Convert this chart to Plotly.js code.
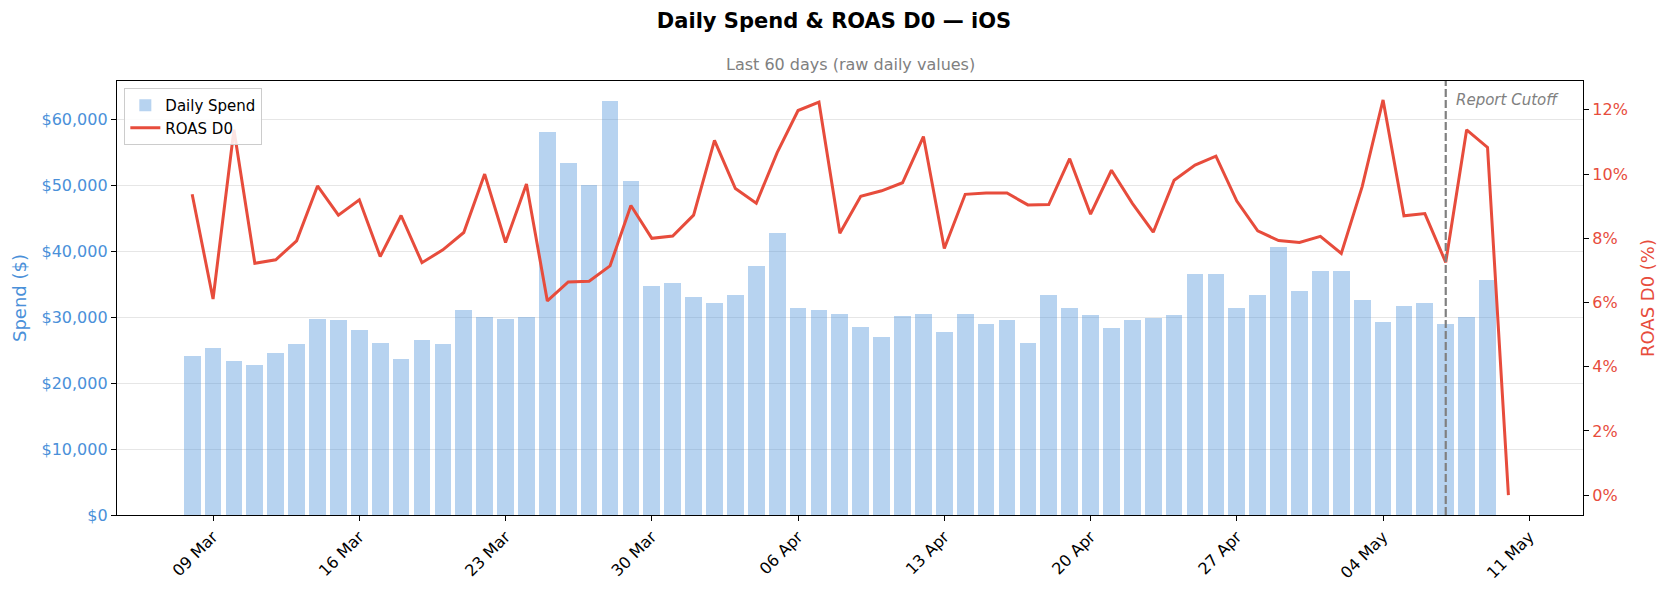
<!DOCTYPE html>
<html>
<head>
<meta charset="utf-8">
<script src="https://cdn.plot.ly/plotly-3.0.1.min.js"></script>
<style>
  html, body { margin: 0; padding: 0; background: #fff; }
  #chart { width: 1668px; height: 594px; }
</style>
</head>
<body>
<div id="chart"></div>
<script>
// Daily spend (bars) and ROAS D0 (line), iOS, last 60 days

const firstDay = '2025-03-08';
const cutoffDay = '2025-05-07';

// daily spend in $, 08 Mar .. 09 May
const spend = [
  24100, 25350, 23400, 22750, 24600, 25950, 29750, 29600, 28050, 26100,
  23700, 26550, 25950, 31100, 30050, 29750, 30000, 58050, 53350, 50050,
  62750, 50650, 34750, 35200, 33050, 32150, 33350, 37750, 42750, 31400,
  31100, 30500, 28550, 27000, 30200, 30500, 27750, 30500, 29000, 29600,
  26100, 33350, 31400, 30350, 28400, 29600, 29900, 30350, 36550, 36550,
  31400, 33350, 40650, 34000, 37000, 37000, 32600, 29300, 31700, 32150,
  29000, 30050, 35650
];

// ROAS D0 in %, 08 Mar .. 10 May
const roas = [
  9.37, 6.11, 11.38, 7.22, 7.33, 7.92, 9.63, 8.72, 9.20, 7.43,
  8.71, 7.24, 7.64, 8.18, 10.00, 7.87, 9.69, 6.05, 6.64, 6.66,
  7.14, 9.02, 8.00, 8.07, 8.72, 11.05, 9.55, 9.09, 10.67, 11.98,
  12.24, 8.16, 9.31, 9.48, 9.73, 11.17, 7.68, 9.37, 9.41, 9.41,
  9.04, 9.05, 10.48, 8.75, 10.12, 9.09, 8.19, 9.81, 10.28, 10.56,
  9.16, 8.23, 7.93, 7.87, 8.06, 7.53, 9.61, 12.31, 8.70, 8.77,
  7.25, 11.38, 10.83, 0
];

const DAY = 86400000;

// consecutive calendar days starting at firstDay
function dayList(start, n) {
  const t0 = Date.parse(start + 'T00:00:00Z');
  const out = [];
  for (let i = 0; i < n; i++) {
    out.push(new Date(t0 + i * DAY).toISOString().slice(0, 10));
  }
  return out;
}

const spendDates = dayList(firstDay, spend.length);
const roasDates = dayList(firstDay, roas.length);

const blue = '#4a90d9';
const red = '#e74c3c';
const font = 'DejaVu Sans, Verdana, sans-serif';

const traces = [
  {
    type: 'bar',
    x: spendDates,
    y: spend,
    width: 0.8 * DAY,
    name: 'Daily Spend',
    marker: { color: 'rgba(74,144,217,0.4)', line: { width: 0 } },
    yaxis: 'y'
  },
  {
    type: 'scatter',
    mode: 'lines',
    x: roasDates,
    y: roas,
    name: 'ROAS D0',
    line: { color: red, width: 3 },
    yaxis: 'y2'
  }
];

const layout = {
  width: 1668,
  height: 594,
  margin: { l: 117, r: 85, t: 81, b: 79 },
  paper_bgcolor: '#fff',
  plot_bgcolor: '#fff',
  font: { family: font, size: 16, color: '#000' },
  showlegend: true,
  bargap: 0,
  title: {
    text: '<b>Daily Spend & ROAS D0 — iOS</b>',
    font: { family: font, size: 21, color: '#000' },
    xref: 'container', x: 0.5, xanchor: 'center',
    yref: 'container', y: 1 - 21 / 594, yanchor: 'middle'
  },
  legend: {
    x: 0.005, y: 0.984, xanchor: 'left', yanchor: 'top',
    bgcolor: 'rgba(255,255,255,0.85)',
    bordercolor: '#cccccc', borderwidth: 1,
    font: { family: font, size: 15, color: '#000' },
    traceorder: 'normal'
  },
  xaxis: {
    type: 'date',
    range: ['2025-03-04 09:40', '2025-05-13 13:40'],
    tick0: '2025-03-09',
    dtick: 7 * DAY,
    tickformat: '%d %b',
    tickangle: -45,
    ticks: 'outside', ticklen: 5, tickwidth: 1.2, tickcolor: '#000',
    showline: true, linecolor: '#000', linewidth: 1.3, mirror: true,
    showgrid: false, zeroline: false,
    tickfont: { family: font, size: 16, color: '#000' }
  },
  yaxis: {
    range: [0, 65850],
    dtick: 10000,
    tickprefix: '$',
    tickformat: ',d',
    ticks: 'outside', ticklen: 5, tickwidth: 1.2, tickcolor: '#000',
    showline: true, linecolor: '#000', linewidth: 1.3,
    showgrid: true, gridcolor: '#e6e6e6', gridwidth: 1,
    zeroline: false,
    tickfont: { family: font, size: 16, color: blue },
    title: { text: 'Spend ($)', font: { family: font, size: 18, color: blue }, standoff: 10 }
  },
  yaxis2: {
    overlaying: 'y',
    side: 'right',
    range: [-0.62, 12.9],
    dtick: 2,
    ticksuffix: '%',
    ticks: 'outside', ticklen: 5, tickwidth: 1.2, tickcolor: '#000',
    showline: true, linecolor: '#000', linewidth: 1.3,
    showgrid: false, zeroline: false,
    tickfont: { family: font, size: 16, color: red },
    title: { text: 'ROAS D0 (%)', font: { family: font, size: 18, color: red }, standoff: 14 }
  },
  shapes: [
    {
      type: 'line', xref: 'x', yref: 'paper',
      x0: cutoffDay, x1: cutoffDay, y0: 0, y1: 1,
      line: { color: '#808080', width: 2.2, dash: '8px,3px' }
    }
  ],
  annotations: [
    {
      text: 'Last 60 days (raw daily values)',
      xref: 'paper', yref: 'paper', x: 0.5, y: 1 + (81 - 65) / 434,
      xanchor: 'center', yanchor: 'middle', showarrow: false,
      font: { family: font, size: 16, color: '#808080' }
    },
    {
      text: 'Report Cutoff',
      xref: 'x', yref: 'paper', x: cutoffDay, y: 1 - (100 - 81) / 434,
      xanchor: 'left', yanchor: 'middle', xshift: 8, showarrow: false,
      font: { family: font, size: 15, color: '#808080', style: 'italic' }
    }
  ]
};

Plotly.newPlot('chart', traces, layout, { displayModeBar: false, responsive: false });
</script>
</body>
</html>
